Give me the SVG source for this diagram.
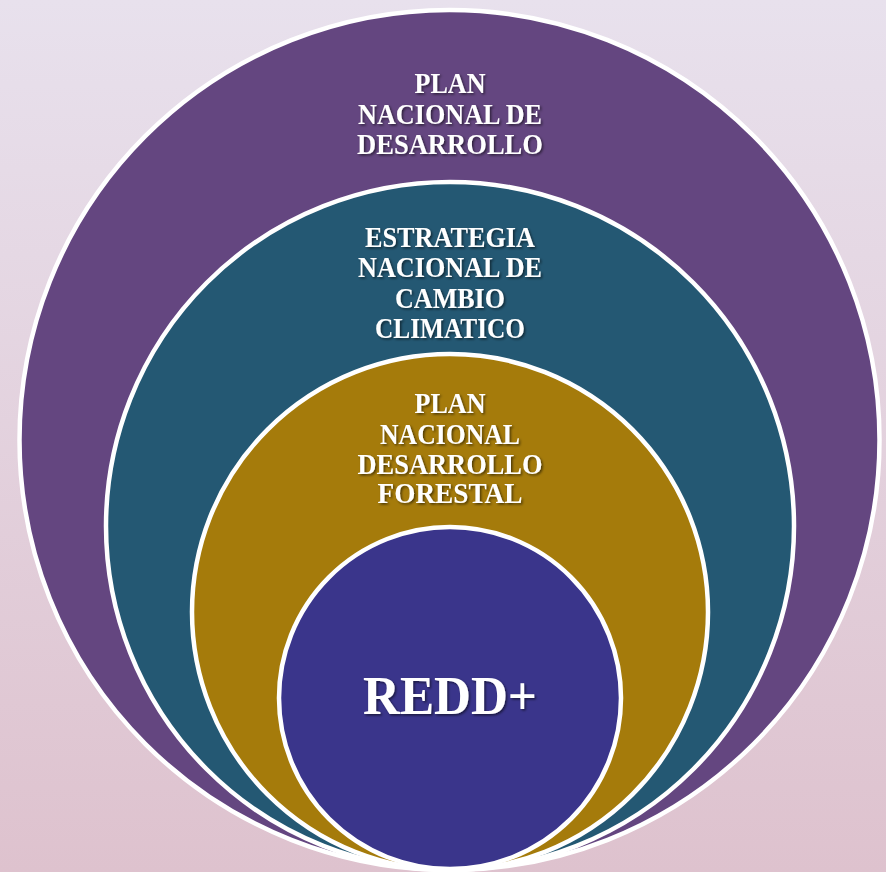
<svg xmlns="http://www.w3.org/2000/svg" width="886" height="872" viewBox="0 0 886 872">
  <defs>
    <linearGradient id="bg" x1="0" y1="0" x2="0" y2="1">
      <stop offset="0" stop-color="#e8e1ed"/>
      <stop offset="1" stop-color="#dec2ce"/>
    </linearGradient>
    <filter id="ts" x="-10%" y="-30%" width="130%" height="170%">
      <feDropShadow dx="1.5" dy="1.5" stdDeviation="1" flood-color="#000" flood-opacity="0.55"/>
    </filter>
  </defs>
  <style>
    .ring { stroke: #ffffff; stroke-width: 4.5; }
    .lbl { font-family: "Liberation Serif", "Times New Roman", serif; font-weight: bold; fill: #ffffff; text-anchor: middle; font-size: 29px; filter: url(#ts); }
    .big { font-size: 54px; }
  </style>
  <rect x="0" y="0" width="886" height="872" fill="url(#bg)"/>
  <g id="plan-nacional-desarrollo">
    <circle class="ring" cx="449.5" cy="440" r="430" fill="#644680"/>
    <text class="lbl"><tspan x="450" y="93" textLength="71" lengthAdjust="spacingAndGlyphs">PLAN</tspan><tspan x="450" y="124" textLength="184" lengthAdjust="spacingAndGlyphs">NACIONAL DE</tspan><tspan x="450" y="154" textLength="186" lengthAdjust="spacingAndGlyphs">DESARROLLO</tspan></text>
  </g>
  <g id="estrategia-cambio-climatico">
    <circle class="ring" cx="450" cy="526" r="344" fill="#245873"/>
    <text class="lbl"><tspan x="450" y="247" textLength="170" lengthAdjust="spacingAndGlyphs">ESTRATEGIA</tspan><tspan x="450" y="277" textLength="184" lengthAdjust="spacingAndGlyphs">NACIONAL DE</tspan><tspan x="450" y="308" textLength="110" lengthAdjust="spacingAndGlyphs">CAMBIO</tspan><tspan x="450" y="338" textLength="150" lengthAdjust="spacingAndGlyphs">CLIMATICO</tspan></text>
  </g>
  <g id="plan-desarrollo-forestal">
    <circle class="ring" cx="450" cy="612" r="258" fill="#a57b0b"/>
    <text class="lbl"><tspan x="450" y="413" textLength="71" lengthAdjust="spacingAndGlyphs">PLAN</tspan><tspan x="450" y="444" textLength="140" lengthAdjust="spacingAndGlyphs">NACIONAL</tspan><tspan x="450" y="474" textLength="185" lengthAdjust="spacingAndGlyphs">DESARROLLO</tspan><tspan x="450" y="503" textLength="145" lengthAdjust="spacingAndGlyphs">FORESTAL</tspan></text>
  </g>
  <g id="redd-plus">
    <circle class="ring" cx="450" cy="698" r="171" fill="#3a358b"/>
    <text class="lbl big" x="450" y="714" textLength="174" lengthAdjust="spacingAndGlyphs">REDD+</text>
  </g>
  <g id="connectors"/>
</svg>
